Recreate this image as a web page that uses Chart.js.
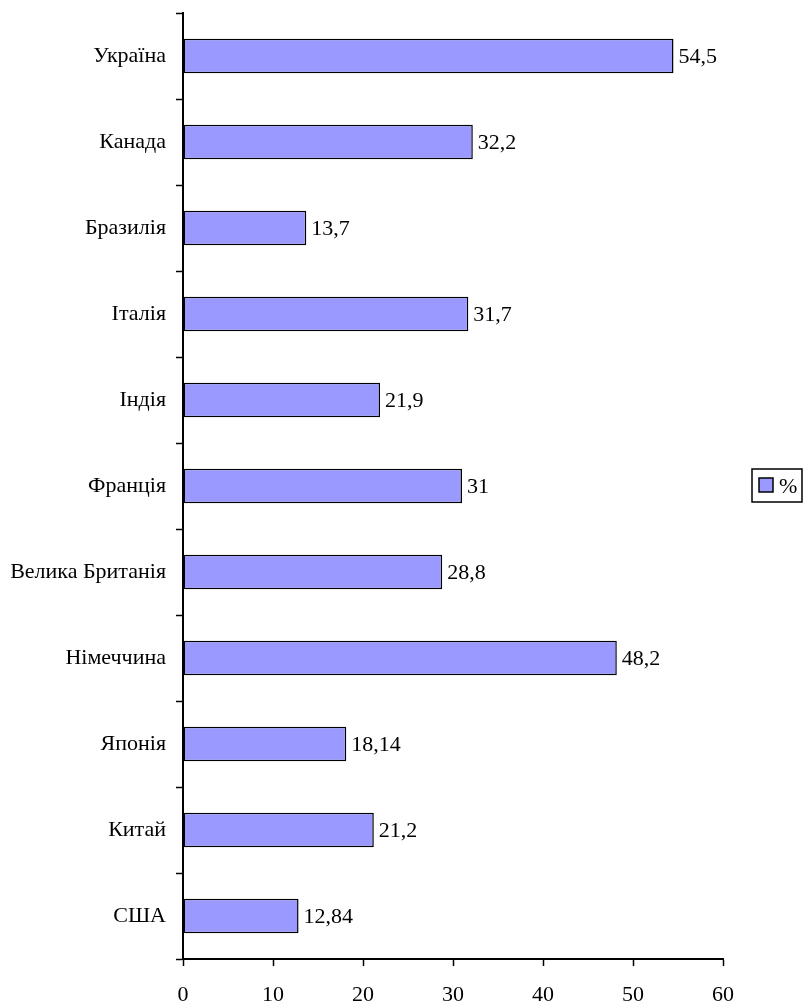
<!DOCTYPE html>
<html>
<head>
<meta charset="utf-8">
<script src="https://cdn.jsdelivr.net/npm/chart.js@4/dist/chart.umd.min.js"></script>
<style>
  html, body { margin: 0; padding: 0; background: #fff; }
  #wrap { width: 805px; height: 1002px; }
</style>
</head>
<body>
<div id="wrap"><canvas id="myChart"></canvas></div>
<script>
const countries = ['Україна', 'Канада', 'Бразилія', 'Італія', 'Індія', 'Франція',
  'Велика Британія', 'Німеччина', 'Японія', 'Китай', 'США'];
const values = [54.5, 32.2, 13.7, 31.7, 21.9, 31, 28.8, 48.2, 18.14, 21.2, 12.84];
const seriesName = '%';
const xTicks = [0, 10, 20, 30, 40, 50, 60];

const font = { family: '"Liberation Serif", "Times New Roman", serif', size: 22 };
const barColor = 'rgb(153, 153, 255)';

// value labels at the end of each bar, with comma decimals
const valueLabels = {
  id: 'valueLabels',
  afterDatasetsDraw(chart) {
    const ctx = chart.ctx;
    const meta = chart.getDatasetMeta(0);
    ctx.save();
    ctx.font = font.size + 'px ' + font.family;
    ctx.fillStyle = '#000';
    ctx.textBaseline = 'middle';
    meta.data.forEach((bar, i) => {
      ctx.fillText(String(values[i]).replace('.', ','), bar.x + 5, bar.y + 1);
    });
    ctx.restore();
  }
};

// framed legend on the right
const boxLegend = {
  id: 'boxLegend',
  afterDraw(chart) {
    const ctx = chart.ctx;
    const cy = (chart.chartArea.top + chart.chartArea.bottom) / 2;
    ctx.save();
    ctx.strokeStyle = '#000';
    ctx.lineWidth = 1.5;
    ctx.strokeRect(752, cy - 17, 50, 33);
    ctx.fillStyle = barColor;
    ctx.fillRect(759, cy - 8, 14, 14);
    ctx.strokeRect(759, cy - 8, 14, 14);
    ctx.fillStyle = '#000';
    ctx.font = font.size + 'px ' + font.family;
    ctx.textBaseline = 'middle';
    ctx.fillText(seriesName, 779, cy + 1);
    ctx.restore();
  }
};

const config = {
  type: 'bar',
  data: {
    labels: countries,
    datasets: [{
      label: seriesName,
      data: values,
      backgroundColor: barColor,
      borderColor: '#000',
      borderWidth: 1.5,
      borderSkipped: false,
      categoryPercentage: 0.4,
      barPercentage: 1,
    }]
  },
  options: {
    indexAxis: 'y',
    responsive: true,
    maintainAspectRatio: false,
    animation: false,
    layout: { padding: { top: 13, right: 82, left: 0, bottom: 0 } },
    plugins: {
      legend: { display: false },
      tooltip: { enabled: false },
    },
    scales: {
      x: {
        min: 0,
        max: 60,
        afterBuildTicks(scale) { scale.ticks = xTicks.map(v => ({ value: v })); },
        afterFit(scale) { scale.height = 1002 - 959; },
        grid: { drawOnChartArea: false, tickLength: 7, tickColor: '#000', tickWidth: 1.5 },
        border: { color: '#000', width: 2 },
        ticks: { color: '#000', font: font, padding: 16, maxRotation: 0 },
      },
      y: {
        afterFit(scale) {
          scale.width = 183;
          scale.paddingTop = 0;
          scale.paddingBottom = 0;
        },
        grid: { offset: true, drawOnChartArea: false, tickLength: 7, tickColor: '#000', tickWidth: 1.5 },
        border: { color: '#000', width: 2 },
        ticks: { color: '#000', font: font, padding: 10, autoSkip: false },
      }
    }
  },
  plugins: [valueLabels, boxLegend],
};

const myChart = new Chart(document.getElementById('myChart'), config);
</script>
</body>
</html>
